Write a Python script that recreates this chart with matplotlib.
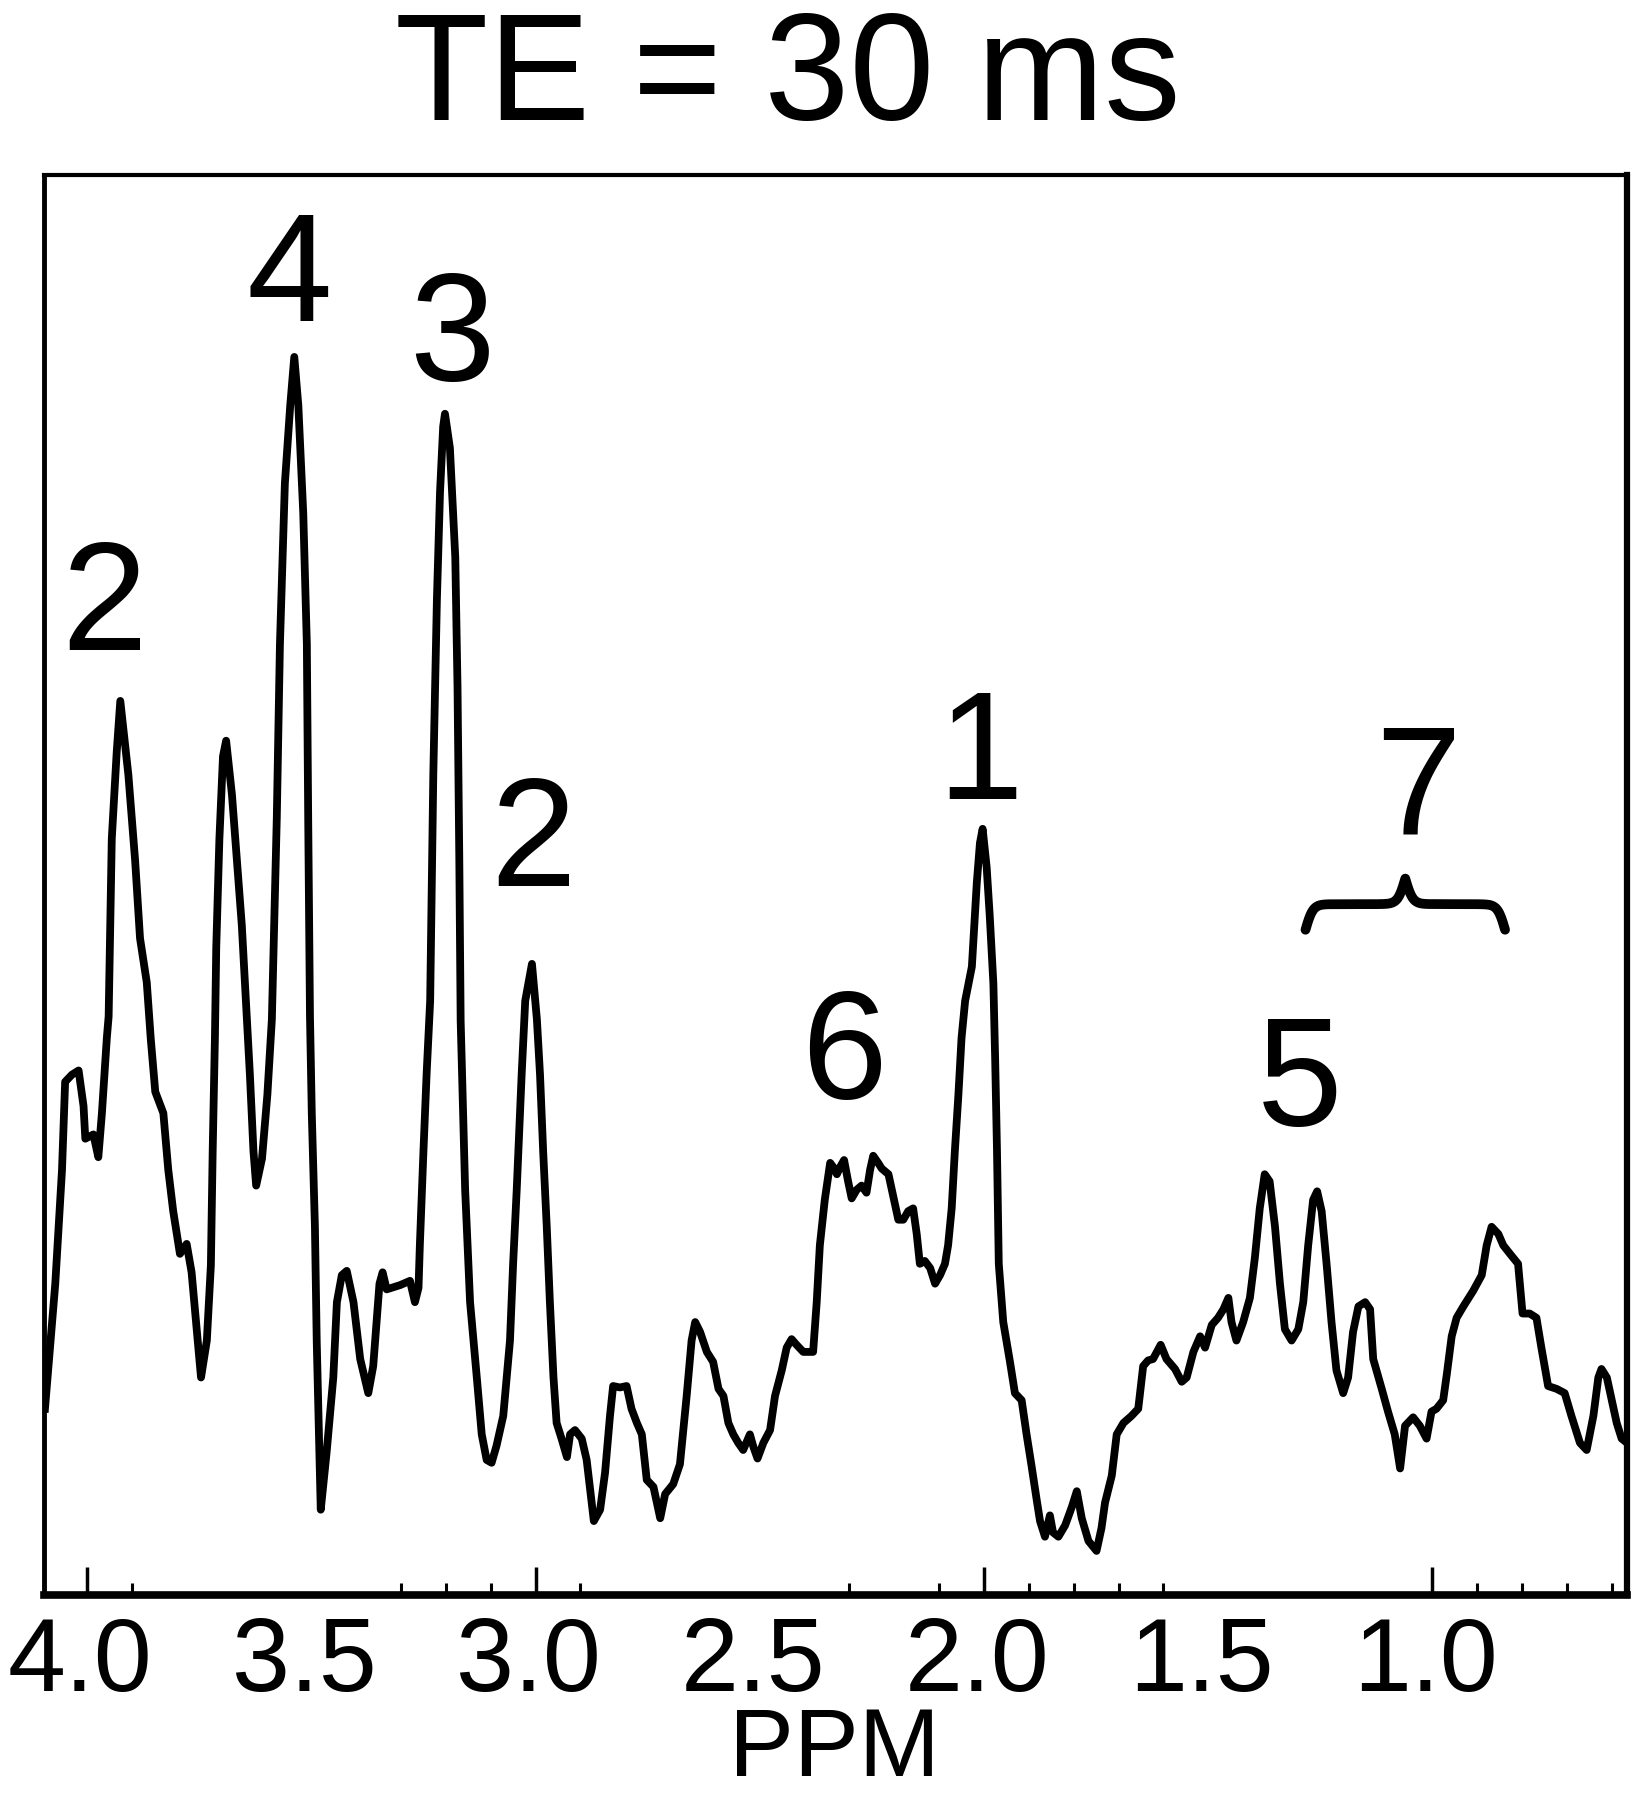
import numpy as np
import matplotlib
matplotlib.use("Agg")
import matplotlib.pyplot as plt
import matplotlib.transforms as mtransforms

plt.rcParams['font.family'] = ['Liberation Sans', 'DejaVu Sans']

# spectrum (ppm, arbitrary intensity)
ppm = [4.094, 4.071, 4.056, 4.049, 4.034, 4.019, 4.008, 4.004, 3.986, 3.975,
       3.967, 3.956, 3.952, 3.945, 3.934, 3.926, 3.908, 3.893, 3.882, 3.867,
       3.858, 3.848, 3.830, 3.819, 3.808, 3.793, 3.778, 3.767, 3.755, 3.746,
       3.733, 3.724, 3.720, 3.715, 3.712, 3.705, 3.697, 3.690, 3.677, 3.666,
       3.655, 3.644, 3.637, 3.629, 3.623, 3.610, 3.598, 3.588, 3.577, 3.570,
       3.559, 3.547, 3.538, 3.529, 3.518, 3.510, 3.507, 3.503, 3.499, 3.492,
       3.488, 3.482, 3.479, 3.466, 3.451, 3.443, 3.432, 3.421, 3.406, 3.391,
       3.373, 3.362, 3.348, 3.341, 3.332, 3.302, 3.280, 3.269, 3.261, 3.258,
       3.250, 3.243, 3.235, 3.228, 3.220, 3.213, 3.206, 3.202, 3.191, 3.179,
       3.174, 3.170, 3.167, 3.157, 3.146, 3.131, 3.120, 3.109, 3.098, 3.087,
       3.072, 3.057, 3.050, 3.042, 3.031, 3.023, 3.008, 2.997, 2.990, 2.983,
       2.975, 2.968, 2.960, 2.953, 2.942, 2.930, 2.923, 2.912, 2.897, 2.886,
       2.875, 2.870, 2.856, 2.845, 2.834, 2.827, 2.812, 2.797, 2.786, 2.774,
       2.763, 2.752, 2.737, 2.722, 2.711, 2.693, 2.678, 2.663, 2.652, 2.644,
       2.633, 2.618, 2.604, 2.592, 2.581, 2.570, 2.559, 2.548, 2.537, 2.522,
       2.514, 2.505, 2.492, 2.477, 2.466, 2.451, 2.440, 2.429, 2.418, 2.403,
       2.381, 2.373, 2.366, 2.355, 2.343, 2.336, 2.328, 2.321, 2.312, 2.303,
       2.295, 2.284, 2.273, 2.262, 2.254, 2.247, 2.236, 2.228, 2.213, 2.202,
       2.191, 2.180, 2.169, 2.158, 2.150, 2.143, 2.132, 2.120, 2.109, 2.098,
       2.087, 2.080, 2.072, 2.065, 2.057, 2.050, 2.042, 2.027, 2.016, 2.009,
       2.003, 1.994, 1.987, 1.979, 1.975, 1.971, 1.967, 1.957, 1.942, 1.931,
       1.916, 1.905, 1.894, 1.882, 1.875, 1.864, 1.853, 1.846, 1.834, 1.819,
       1.804, 1.793, 1.782, 1.767, 1.749, 1.738, 1.730, 1.715, 1.704, 1.689,
       1.671, 1.656, 1.645, 1.634, 1.623, 1.606, 1.593, 1.574, 1.559, 1.548,
       1.533, 1.518, 1.507, 1.492, 1.478, 1.466, 1.455, 1.448, 1.437, 1.422,
       1.407, 1.396, 1.385, 1.374, 1.363, 1.351, 1.340, 1.329, 1.314, 1.299,
       1.288, 1.277, 1.266, 1.257, 1.247, 1.236, 1.225, 1.214, 1.199, 1.188,
       1.177, 1.165, 1.150, 1.139, 1.132, 1.113, 1.099, 1.084, 1.072, 1.061,
       1.043, 1.028, 1.013, 1.002, 0.991, 0.976, 0.968, 0.957, 0.946, 0.931,
       0.909, 0.890, 0.879, 0.868, 0.853, 0.842, 0.827, 0.809, 0.799, 0.783,
       0.768, 0.757, 0.742, 0.723, 0.705, 0.690, 0.671, 0.656, 0.641, 0.630,
       0.623, 0.611, 0.600, 0.589, 0.578, 0.566]
signal = [13.0, 21.8, 29.8, 36.0, 36.5, 36.8, 34.3, 32.0, 32.3, 30.7,
          33.8, 39.1, 40.6, 53.1, 59.2, 62.8, 57.6, 51.6, 46.1, 43.0,
          39.0, 35.3, 33.8, 29.8, 26.9, 23.9, 24.6, 22.6, 18.4, 15.2,
          17.8, 23.1, 31.1, 39.1, 45.5, 53.1, 58.9, 60.0, 56.2, 51.6,
          47.0, 40.6, 36.5, 31.1, 28.7, 30.6, 35.1, 40.4, 54.6, 66.8,
          78.1, 83.6, 87.0, 83.6, 76.0, 66.8, 54.6, 40.6, 33.8, 25.8,
          17.8, 9.9, 5.9, 9.9, 15.2, 20.5, 22.4, 22.7, 20.5, 16.5,
          14.1, 16.0, 21.8, 22.6, 21.4, 21.7, 22.0, 20.5, 21.5, 24.5,
          31.1, 36.5, 41.7, 57.6, 69.9, 77.5, 82.1, 83.0, 80.6, 72.9,
          63.8, 51.6, 40.3, 28.4, 20.5, 15.2, 11.2, 9.4, 9.2, 10.4,
          12.5, 17.8, 23.2, 28.4, 36.5, 41.7, 44.3, 40.4, 36.5, 31.1,
          25.8, 20.5, 15.2, 12.0, 10.9, 9.6, 11.2, 11.5, 10.9, 9.4,
          6.4, 5.1, 5.9, 8.5, 12.5, 14.6, 14.5, 14.6, 13.0, 12.0,
          11.2, 8.0, 7.5, 5.3, 7.0, 7.7, 9.1, 13.9, 17.8, 19.1,
          18.4, 17.0, 16.3, 14.4, 13.9, 12.0, 11.2, 10.6, 10.1, 11.2,
          10.3, 9.5, 10.6, 11.5, 13.9, 15.7, 17.3, 17.9, 17.5, 17.0,
          17.0, 20.5, 24.5, 27.7, 30.3, 30.0, 29.5, 30.0, 30.5, 29.0,
          27.8, 28.4, 28.7, 28.2, 29.8, 30.8, 30.3, 29.9, 29.5, 27.9,
          26.3, 26.3, 26.9, 27.1, 25.3, 23.2, 23.4, 22.9, 21.8, 22.4,
          23.2, 24.5, 27.1, 31.1, 35.1, 39.1, 41.7, 44.1, 50.0, 52.8,
          53.8, 51.1, 47.6, 42.9, 37.5, 31.2, 23.2, 19.1, 16.3, 14.1,
          13.6, 11.2, 9.0, 6.5, 5.1, 4.0, 5.5, 4.3, 4.0, 4.8,
          6.1, 7.2, 5.3, 3.7, 3.0, 4.6, 6.4, 8.3, 11.2, 12.0,
          12.5, 13.0, 16.0, 16.4, 16.5, 17.5, 16.5, 15.8, 14.9, 15.2,
          17.0, 18.1, 17.3, 18.9, 19.4, 20.0, 20.8, 19.1, 17.8, 19.1,
          20.8, 23.6, 27.1, 29.5, 29.0, 25.8, 21.8, 18.6, 17.8, 18.6,
          20.5, 24.5, 27.7, 28.3, 26.9, 23.2, 19.1, 15.7, 14.1, 15.2,
          18.4, 20.2, 20.5, 20.0, 16.5, 14.4, 12.8, 11.2, 8.8, 11.8,
          12.4, 11.8, 10.9, 12.8, 13.0, 13.6, 15.4, 18.1, 19.4, 20.2,
          21.3, 22.4, 24.5, 25.8, 25.3, 24.5, 23.9, 23.2, 19.7, 19.7,
          19.4, 17.3, 14.6, 14.4, 14.1, 12.5, 10.6, 10.1, 12.5, 15.2,
          15.8, 15.2, 13.6, 12.0, 10.9, 10.6]

# peak labels
peak_labels = ['2', '4', '3', '2', '6', '1', '5', '7']
peak_x = [3.961, 3.550, 3.186, 3.006, 2.312, 2.009, 1.295, 1.032]
peak_y = [66.4, 89.5, 85.3, 49.8, 34.8, 55.9, 32.9, 53.4]

# brace under label 7
brace_left = 1.283
brace_right = 0.838
brace_level = 48.5

tick_labels = ['4.0', '3.5', '3.0', '2.5', '2.0', '1.5', '1.0']
tick_label_pos = [4.0, 3.5, 3.0, 2.5, 2.0, 1.5, 1.0]
long_ticks = [4.0, 3.0, 2.0, 1.0]
short_ticks = [3.9, 3.3, 3.2, 3.1, 2.9, 2.3, 2.1, 1.9, 1.8, 1.7, 1.6,
               0.9, 0.8, 0.7, 0.6]

fig = plt.figure(figsize=(16.38, 18.0), dpi=100)
ax = fig.add_axes([0.0269, 0.1139, 0.9664, 0.7889])

ax.plot(ppm, signal, color='black', lw=5.6, solid_joinstyle='round')

for t, x, y in zip(peak_labels, peak_x, peak_y):
    ax.text(x, y, t, ha='center', va='baseline', fontsize=111, color='black')

# curly brace
xs = np.linspace(min(brace_left, brace_right), max(brace_left, brace_right), 401)
half = xs[:201]
beta = 120.0
yh = 1 / (1 + np.exp(-beta * (half - half[0]))) + 1 / (1 + np.exp(-beta * (half - half[-1])))
yb = np.concatenate([yh, yh[-2::-1]])
ax.plot(xs, brace_level + (yb - 1.0) * 3.6, color='black', lw=7,
        solid_capstyle='round')

ax.set_xlim(4.096, 0.566)
ax.set_ylim(-0.1, 99.8)

ax.set_yticks([])
ax.set_xticks(tick_label_pos)
ax.set_xticklabels(tick_labels)
ax.tick_params(axis='x', length=0, pad=15, labelsize=75)
offset = mtransforms.ScaledTranslation(-7 / 100, 0, fig.dpi_scale_trans)
for lab in ax.get_xticklabels():
    lab.set_transform(lab.get_transform() + offset)

# tick marks (pointing inward)
ax2 = ax.twiny()
ax2.set_xlim(ax.get_xlim())
ax2.xaxis.set_ticks_position('bottom')
ax2.set_xticks(long_ticks)
ax2.set_xticks(short_ticks, minor=True)
ax2.tick_params(axis='x', which='major', direction='in', length=20, width=2.5,
                labelbottom=False, labeltop=False)
ax2.tick_params(axis='x', which='minor', direction='in', length=9, width=2.2)
for s in ax2.spines.values():
    s.set_visible(False)

ax.spines['left'].set_linewidth(3.5)
ax.spines['right'].set_linewidth(4.5)
ax.spines['bottom'].set_linewidth(5.5)
ax.spines['top'].set_linewidth(3.0)

fig.text(788 / 1638, 1 - 120 / 1800, 'TE = 30 ms', ha='center', va='baseline',
         fontsize=110)
fig.text(834 / 1638, 0.002, 'PPM', ha='center', va='bottom', fontsize=70)

fig.savefig('out.png', dpi=100)
